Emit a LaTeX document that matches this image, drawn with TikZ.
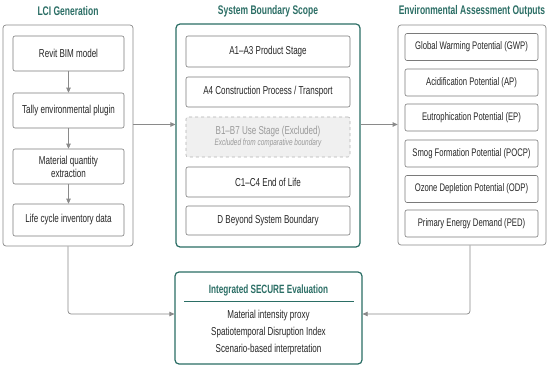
\documentclass[tikz,border=0pt]{standalone}
\usepackage{fontspec}
\setmainfont{Liberation Sans}[FakeStretch=0.7]
\newfontfamily\headfont{Liberation Sans}[FakeStretch=0.68]
\usetikzlibrary{arrows.meta}

\definecolor{teal}{HTML}{2B6E65}
\definecolor{boxgray}{HTML}{7A7A7A}
\definecolor{linegray}{HTML}{8A8A8A}
\definecolor{dimtext}{HTML}{9A9A9A}

\tikzset{
  panel/.style={draw=linegray, rounded corners=3pt, line width=0.7pt, fill=white},
  scopepanel/.style={draw=teal, rounded corners=4pt, line width=1.2pt, fill=white},
  stagebox/.style={draw=boxgray, rounded corners=2pt, line width=0.6pt, fill=white,
    align=center, font=\fontsize{11.5}{13}\selectfont, text=black!85},
  heading/.style={font=\headfont\fontsize{12.5}{14}\selectfont\bfseries, text=teal},
  flow/.style={draw=linegray, line width=0.7pt, -{Triangle[length=5pt,width=4.5pt]}, rounded corners=3pt}
}

\begin{document}
\begin{tikzpicture}[x=1pt, y=-1pt]

     \useasboundingbox[fill=white] (0,0) rectangle (550,366);

     % headings
     \node[heading] (lcititle) at (68,11) {LCI Generation};
     \node[heading] (sbstitle) at (268,11) {System Boundary Scope};
     \node[heading] (outtitle) at (472,11) {Environmental Assessment Outputs};

     % panels
     \node[panel, minimum width=130pt, minimum height=221pt] (lci) at (68,135.5) {};
     \node[scopepanel, minimum width=184pt, minimum height=223pt] (sbs) at (268,135.5) {};
     \node[panel, minimum width=148pt, minimum height=220pt] (out) at (472,135) {};

     % LCI Generation
     \node[stagebox, minimum width=111pt, minimum height=35pt] (revit) at (68.5,53.5) {Revit BIM model};
     \node[stagebox, minimum width=111pt, minimum height=35pt] (tally) at (68.5,110.5) {Tally environmental plugin};
     \node[stagebox, minimum width=111pt, minimum height=35pt] (qty) at (68.5,166.5) {Material quantity\\extraction};
     \node[stagebox, minimum width=111pt, minimum height=32pt] (inv) at (68.5,220) {Life cycle inventory data};

     \draw[flow] (revit) -- (tally);
     \draw[flow] (tally) -- (qty);
     \draw[flow] (qty) -- (inv);

     % System Boundary Scope
     \node[stagebox, minimum width=164pt, minimum height=31pt] (a13) at (268,51.5) {A1–A3 Product Stage};
     \node[stagebox, minimum width=164pt, minimum height=30pt] (a4) at (268,92) {A4 Construction Process / Transport};
     \node[stagebox, draw=black!30, dashed, fill=black!6, text=dimtext, minimum width=164pt, minimum height=40pt] (b17) at (268,137)
       {B1–B7 Use Stage (Excluded)\\[-2pt]{\fontsize{9.2}{10}\selectfont\itshape Excluded from comparative boundary}};
     \node[stagebox, minimum width=164pt, minimum height=30pt] (c14) at (268,182) {C1–C4 End of Life};
     \node[stagebox, minimum width=164pt, minimum height=29pt] (dbey) at (268,220.5) {D Beyond System Boundary};

     % Environmental Assessment Outputs
     \foreach \name/\ypos/\label in {gwp/47/Global Warming Potential (GWP),
                                     ap/82.5/Acidification Potential (AP),
                                     ep/117.5/Eutrophication Potential (EP),
                                     pocp/153.5/Smog Formation Potential (POCP),
                                     odp/189/Ozone Depletion Potential (ODP),
                                     ped/223.5/Primary Energy Demand (PED)}
       \node[stagebox, font=\fontsize{11}{12}\selectfont, minimum width=133pt, minimum height=27pt] (\name) at (471.5,\ypos) {\label};

     % Integrated SECURE Evaluation
     \node[scopepanel, minimum width=187pt, minimum height=92pt] (secure) at (268.5,318) {};
     \node[heading, font=\headfont\fontsize{12}{13}\selectfont\bfseries] (securetitle) at (268.5,290) {Integrated SECURE Evaluation};
     \draw[teal, line width=0.7pt] (184,301) -- (354,301);
     \node[align=center, font=\fontsize{11.5}{17}\selectfont, text=black!85] (securetext) at (268.5,333)
       {Material intensity proxy\\Spatiotemporal Disruption Index\\Scenario-based interpretation};

     % flow between panels
     \draw[flow] ([yshift=11pt]lci.east) -- ([yshift=11pt]sbs.west);
     \draw[flow] ([yshift=11pt]sbs.east) -- ([yshift=11pt]sbs.east -| out.west);
     \draw[flow] (lci.south) |- ([yshift=4pt]secure.west);
     \draw[flow] ([xshift=-2pt]out.south) |- ([yshift=4pt]secure.east);

\end{tikzpicture}
\end{document}
